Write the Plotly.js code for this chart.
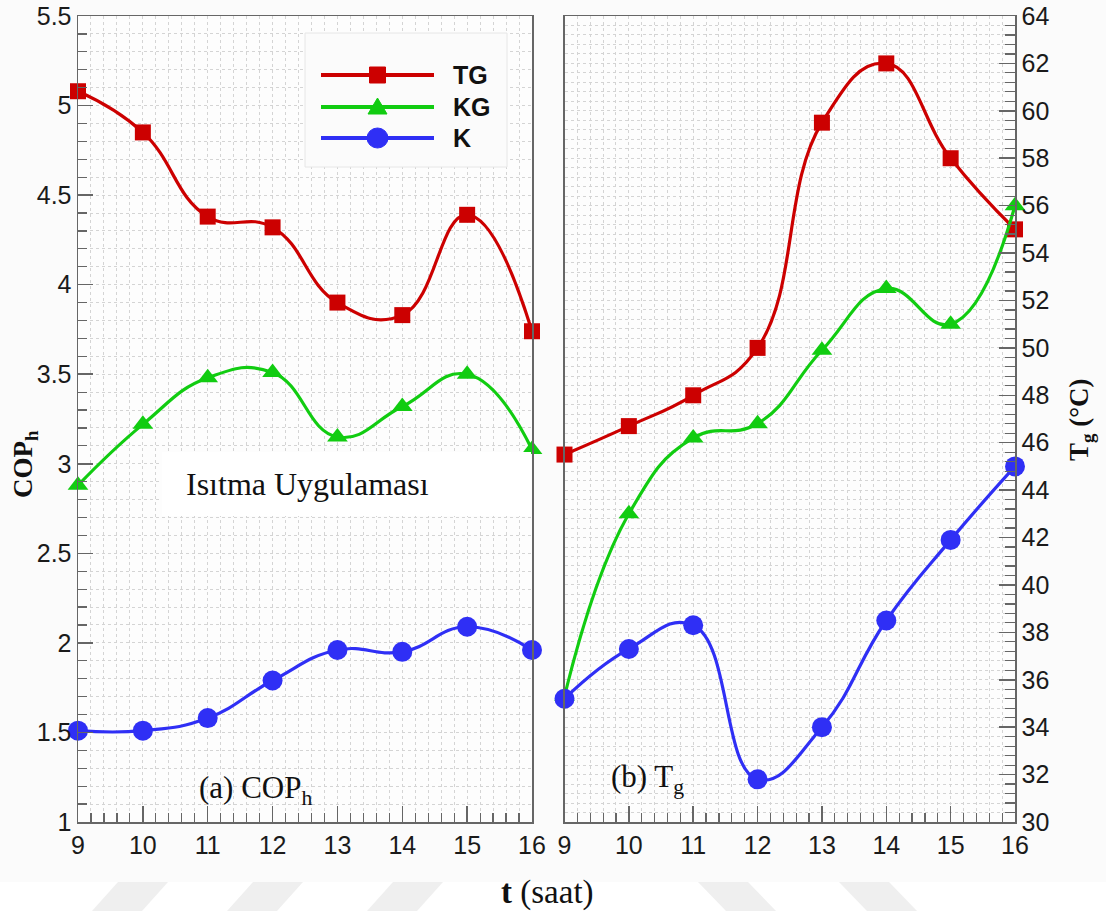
<!DOCTYPE html>
<html>
<head>
<meta charset="utf-8">
<script src="https://cdn.plot.ly/plotly-3.0.1.min.js"></script>
<style>html,body{margin:0;padding:0;background:#ffffff;}</style>
</head>
<body>
<div id="chart" style="width:1106px;height:911px;"></div>
<script>
// ---- data ----
const hours = [9, 10, 11, 12, 13, 14, 15, 16];
const seriesNames = ['TG', 'KG', 'K'];
const seriesColors = ['#cc0000', '#11cc11', '#2f2ff5'];
const seriesSymbols = ['square', 'triangle-up', 'circle'];
const seriesMarkerSizes = [16, 18, 20];

// (a) COP_h
const copTG = [5.08, 4.85, 4.38, 4.32, 3.90, 3.83, 4.39, 3.74];
const copKG = [2.88, 3.22, 3.48, 3.51, 3.15, 3.32, 3.50, 3.08];
const copK  = [1.51, 1.51, 1.58, 1.79, 1.96, 1.95, 2.09, 1.96];

// (b) T_g (°C)
const tgTG = [45.5, 46.7, 48.0, 50.0, 59.5, 62.0, 58.0, 55.0];
const tgKG = [35.3, 43.0, 46.2, 46.8, 49.9, 52.5, 51.0, 56.0];
const tgK  = [35.2, 37.3, 38.3, 31.8, 34.0, 38.5, 41.9, 45.0];

// ---- layout helpers (pixel -> paper) ----
const W = 1106, H = 911;
const M = {l: 78, r: 91, t: 16, b: 89};
const PW = W - M.l - M.r, PH = H - M.t - M.b;
const X = px => (px - M.l) / PW;
const Y = py => (H - M.b - py) / PH;

const copSeries = [copTG, copKG, copK];
const tgSeries = [tgTG, tgKG, tgK];

const traces = [];
function addTrace(yvals, i, xa, ya) {
  traces.push({
    x: hours, y: yvals, xaxis: xa, yaxis: ya,
    type: 'scatter', mode: 'lines+markers', name: seriesNames[i],
    showlegend: false, cliponaxis: false,
    line: {color: seriesColors[i], width: 3.2, shape: 'spline', smoothing: 1.3},
    marker: {symbol: seriesSymbols[i], size: seriesMarkerSizes[i], color: seriesColors[i]}
  });
}
copSeries.forEach((s, i) => addTrace(s, i, 'x', 'y'));
tgSeries.forEach((s, i) => addTrace(s, i, 'x2', 'y2'));

const gridC = '#d4d4d4';
const lineC = '#666666';
const tickFont = {family: 'Liberation Sans, Arial, sans-serif', size: 25, color: '#1a1a1a'};

function xAxis(domain, anchor) {
  return {
    domain: domain, anchor: anchor, range: [9, 16], tick0: 9, dtick: 1,
    ticks: 'inside', ticklen: 16, tickwidth: 1.5, tickcolor: lineC,
    showline: true, mirror: true, linecolor: lineC, linewidth: 1.5,
    showgrid: true, gridcolor: gridC, griddash: 'dot', gridwidth: 1,
    zeroline: false, tickfont: tickFont,
    minor: {tick0: 9, dtick: 0.2, ticks: 'inside', ticklen: 9, tickwidth: 1.2, tickcolor: lineC,
            showgrid: true, gridcolor: gridC, griddash: 'dot', gridwidth: 1}
  };
}

const layout = {
  width: W, height: H,
  margin: M,
  paper_bgcolor: '#fbfbfb', plot_bgcolor: '#fdfdfd',
  showlegend: false,
  xaxis: xAxis([0, X(532)], 'y'),
  xaxis2: xAxis([X(564.5), 1], 'y2'),
  yaxis: {
    anchor: 'x', range: [1, 5.5], tick0: 1, dtick: 0.5,
    ticks: 'inside', ticklen: 15, tickwidth: 1.5, tickcolor: lineC,
    showline: true, mirror: true, linecolor: lineC, linewidth: 1.5,
    showgrid: true, gridcolor: gridC, griddash: 'dot', gridwidth: 1,
    zeroline: false, tickfont: tickFont,
    minor: {tick0: 1, dtick: 0.1, ticks: 'inside', ticklen: 9, tickwidth: 1.2, tickcolor: lineC,
            showgrid: true, gridcolor: gridC, griddash: 'dot', gridwidth: 1}
  },
  yaxis2: {
    anchor: 'x2', side: 'right', range: [30, 64], tick0: 30, dtick: 2,
    ticks: 'inside', ticklen: 16, tickwidth: 1.5, tickcolor: lineC,
    showline: true, mirror: true, linecolor: lineC, linewidth: 1.5,
    showgrid: true, gridcolor: gridC, griddash: 'dot', gridwidth: 1,
    zeroline: false, tickfont: tickFont,
    minor: {tick0: 30, dtick: 0.4, ticks: 'inside', ticklen: 10, tickwidth: 1.2, tickcolor: lineC,
            showgrid: true, gridcolor: gridC, griddash: 'dot', gridwidth: 1}
  },
  shapes: [],
  annotations: []
};

// white strip at the bottom with faint watermark stripes
layout.shapes.push({type: 'rect', xref: 'paper', yref: 'paper', layer: 'below',
  x0: X(0), x1: X(W), y0: Y(H), y1: Y(882), fillcolor: '#ffffff', line: {width: 0}});
const stripesL = [70, 205, 345];
stripesL.forEach(s => layout.shapes.push({type: 'path', xref: 'paper', yref: 'paper', layer: 'below',
  path: 'M' + X(s + 48) + ',' + Y(882) + 'L' + X(s + 98) + ',' + Y(882) + 'L' + X(s + 72) + ',' + Y(H) +
        'L' + X(s + 22) + ',' + Y(H) + 'Z',
  fillcolor: '#efefef', line: {width: 0}}));
const stripesR = [698, 839];
stripesR.forEach(s => layout.shapes.push({type: 'path', xref: 'paper', yref: 'paper', layer: 'below',
  path: 'M' + X(s) + ',' + Y(882) + 'L' + X(s + 50) + ',' + Y(882) + 'L' + X(s + 78) + ',' + Y(H) +
        'L' + X(s + 28) + ',' + Y(H) + 'Z',
  fillcolor: '#efefef', line: {width: 0}}));

// white box behind "Isıtma Uygulaması"
layout.shapes.push({type: 'rect', xref: 'paper', yref: 'paper', layer: 'above',
  x0: X(162), x1: X(531), y0: Y(516), y1: Y(452),
  fillcolor: '#ffffff', line: {width: 0}});

// legend box
layout.shapes.push({type: 'rect', xref: 'paper', yref: 'paper', layer: 'above',
  x0: X(305), x1: X(507), y0: Y(167), y1: Y(33),
  fillcolor: '#fbfbfb', line: {color: '#e6e6e6', width: 1}});

const legendRows = [75, 107, 138];
seriesNames.forEach((name, i) => {
  const yy = Y(legendRows[i]);
  layout.shapes.push({type: 'line', xref: 'paper', yref: 'paper', layer: 'above',
    x0: X(321), x1: X(434), y0: yy, y1: yy,
    line: {color: seriesColors[i], width: 4}});
  const common = {xref: 'paper', yref: 'paper', layer: 'above',
    xsizemode: 'pixel', ysizemode: 'pixel', xanchor: X(377.5), yanchor: yy,
    fillcolor: seriesColors[i], line: {color: seriesColors[i], width: 1}};
  if (seriesSymbols[i] === 'square') {
    layout.shapes.push(Object.assign({type: 'rect', x0: -8, x1: 8, y0: -8, y1: 8}, common));
  } else if (seriesSymbols[i] === 'triangle-up') {
    layout.shapes.push(Object.assign({type: 'path', path: 'M-9.5,-7L9.5,-7L0,9Z'}, common));
  } else {
    layout.shapes.push(Object.assign({type: 'circle', x0: -10.5, x1: 10.5, y0: -10, y1: 10}, common));
  }
  layout.annotations.push({xref: 'paper', yref: 'paper', x: X(451), y: yy,
    xanchor: 'left', yanchor: 'middle', showarrow: false,
    text: '<b>' + name + '</b>',
    font: {family: 'Liberation Sans, Arial, sans-serif', size: 25, color: '#111'}});
});

const serif = 'Liberation Serif, Times New Roman, serif';
function note(px, py, text, size, angle) {
  layout.annotations.push({xref: 'paper', yref: 'paper', x: X(px), y: Y(py),
    xanchor: 'center', yanchor: 'middle', textangle: angle || 0, showarrow: false,
    text: text, font: {family: serif, size: size, color: '#111'}});
}
note(25, 464, '<b>COP<sub>h</sub></b>', 27, -90);
note(1081, 420, '<b>T<sub>g</sub> (°C)</b>', 27, -90);
note(547, 892, '<b>t</b> (saat)', 33);
note(307, 484, 'Isıtma Uygulaması', 32);
note(255, 790, '(a) COP<sub>h</sub>', 31);
note(647, 779, '(b) T<sub>g</sub>', 31);

Plotly.newPlot('chart', traces, layout, {displayModeBar: false, staticPlot: true});
</script>
</body>
</html>
